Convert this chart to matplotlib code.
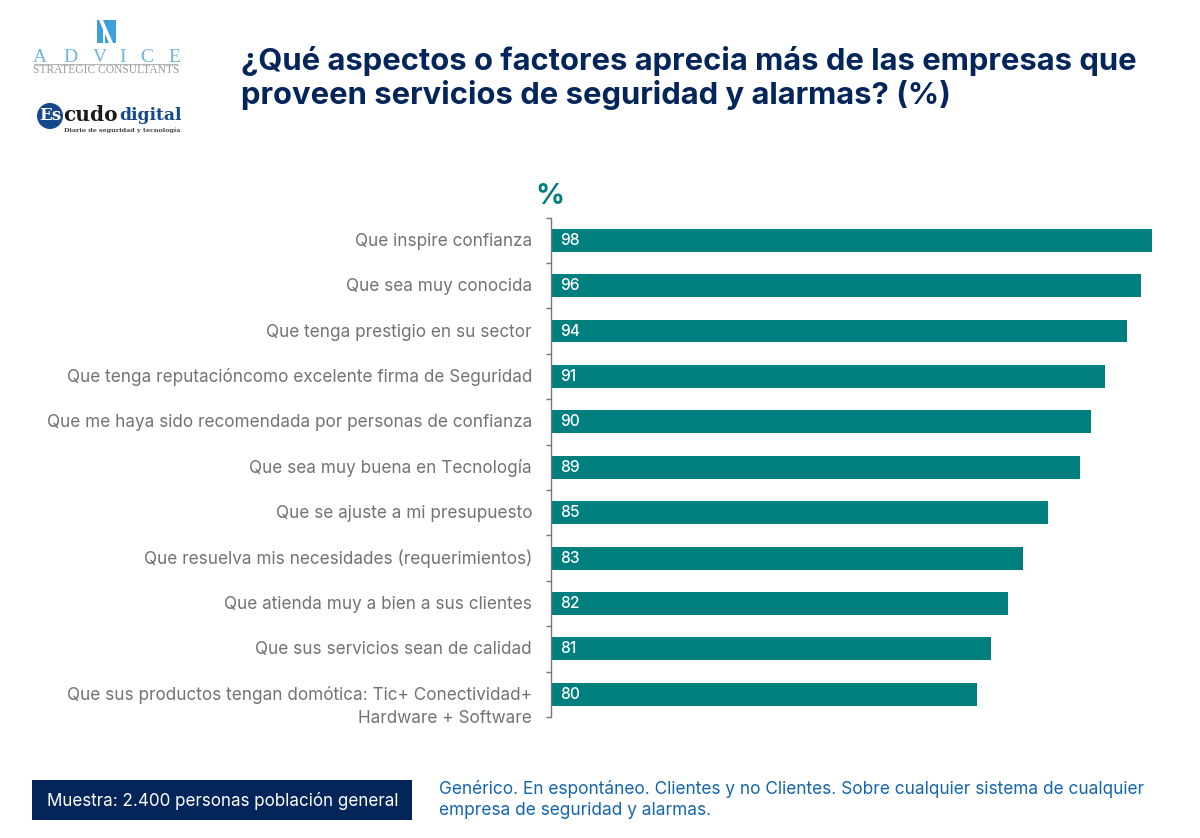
import matplotlib
matplotlib.use("Agg")
import matplotlib.pyplot as plt
from matplotlib.patches import Circle, Polygon, Rectangle

# -- datos ---------------------------------------------------------------------
categories = [
    "Que inspire confianza",
    "Que sea muy conocida",
    "Que tenga prestigio en su sector",
    "Que tenga reputacióncomo excelente firma de Seguridad",
    "Que me haya sido recomendada por personas de confianza",
    "Que sea muy buena en Tecnología",
    "Que se ajuste a mi presupuesto",
    "Que resuelva mis necesidades (requerimientos)",
    "Que atienda muy a bien a sus clientes",
    "Que sus servicios sean de calidad",
    "Que sus productos tengan domótica: Tic+ Conectividad+",
]
# los rotulos del original no coinciden con el largo dibujado de las barras
value_labels = [98, 96, 94, 91, 90, 89, 85, 83, 82, 81, 80]
bar_lengths = [98.0, 96.2, 93.9, 90.4, 88.1, 86.3, 81.1, 77.0, 74.5, 71.8, 69.5]

title_lines = ["¿Qué aspectos o factores aprecia más de las empresas que",
               "proveen servicios de seguridad y alarmas? (%)"]
sample_text = "Muestra: 2.400 personas población general"
note_lines = ["Genérico. En espontáneo. Clientes y no Clientes. Sobre cualquier sistema de cualquier",
              "empresa de seguridad y alarmas."]

TEAL = "#007f7f"
NAVY = "#03255a"
GREY = "#707377"
BLUE = "#1465ad"
SKY = "#3f9fd8"

W, H = 1200, 838
plt.rcParams["font.family"] = ["Inter", "Liberation Sans", "DejaVu Sans"]
fig = plt.figure(figsize=(W / 100, H / 100), dpi=100, facecolor="white")

# capa en pixeles para textos y logos
bg = fig.add_axes([0, 0, 1, 1])
bg.set_xlim(0, W)
bg.set_ylim(H, 0)
bg.axis("off")

# -- grafico -------------------------------------------------------------------
left, right, top, bottom = 551, 1200, 217.5, 717
ax = fig.add_axes([left / W, 1 - bottom / H, (right - left) / W, (bottom - top) / H])
ax.patch.set_alpha(0)
ypos = list(range(len(categories)))
ax.barh(ypos, bar_lengths, height=0.505, color=TEAL)
ax.set_xlim(0, (right - left) / 6.133)
ax.set_ylim(len(categories) - 0.5, -0.5)
for s in ["top", "right", "bottom"]:
    ax.spines[s].set_visible(False)
ax.spines["left"].set_color("#777777")
ax.spines["left"].set_linewidth(1)
ax.set_xticks([])
ax.set_yticks([y - 0.5 for y in ypos] + [len(ypos) - 0.5])
ax.set_yticklabels([])
ax.tick_params(axis="y", length=3.5, width=1, color="#777777")

for y, v, c in zip(ypos, value_labels, categories):
    ax.annotate(str(v), (0, y), xytext=(9, 0), textcoords="offset pixels",
                color="white", fontsize=11.2, fontweight="medium", va="center", ha="left")
    ax.annotate(c, (0, y), xytext=(-19, -1), textcoords="offset pixels", annotation_clip=False,
                color=GREY, fontsize=12.35, va="center", ha="right")
ax.annotate("Hardware + Software", (0, ypos[-1]), xytext=(-19, -24), textcoords="offset pixels",
            annotation_clip=False, color=GREY, fontsize=12.35, va="center", ha="right")

bg.text(550, 196.5, "%", color=TEAL, fontsize=20.5, fontweight="bold", ha="center", va="center")

# -- titulo --------------------------------------------------------------------
for y, line in zip([61, 95], title_lines):
    bg.text(241, y, line, color=NAVY, fontsize=22.3, fontweight="bold", ha="left", va="center")

# -- pie -----------------------------------------------------------------------
bg.add_patch(Rectangle((32, 780), 380, 40, color=NAVY, lw=0))
bg.text(222.5, 800.5, sample_text, color="white", fontsize=12.25, ha="center", va="center")
for y, line in zip([788.5, 810.5], note_lines):
    bg.text(439, y, line, color=BLUE, fontsize=12.42, ha="left", va="center")

# -- logos ---------------------------------------------------------------------
bg.add_patch(Rectangle((97, 20), 19, 23, color=SKY, lw=0))
bg.add_patch(Polygon([(99, 20), (103, 20), (113, 43), (109, 43)], color="white", lw=0))
bg.add_patch(Polygon([(103, 29), (105, 25), (105, 43), (103, 43)], color="white", lw=0))
for x, ch in zip([40, 70, 100, 123, 147, 174], "ADVICE"):
    bg.text(x, 57, ch, color="#6fb4de", fontsize=14, family="Liberation Serif",
            ha="center", va="center")
bg.add_patch(Rectangle((34, 64), 144, 1.5, color="#b5b5b5", lw=0))
bg.text(106, 70, "STRATEGIC CONSULTANTS", color="#9a9a9a", fontsize=8.3,
        family="Liberation Serif", ha="center", va="center")

bg.add_patch(Circle((50, 116), 13, color="#16498c", lw=0))
bg.text(50, 116, "Es", color="white", fontsize=12, family="DejaVu Serif",
        fontweight="bold", ha="center", va="center")
bg.text(63, 115, "cudo", color="#1a1a1a", fontsize=14.5, family="DejaVu Serif",
        fontweight="bold", ha="left", va="center")
bg.text(119, 115, "digital", color="#16498c", fontsize=12.3, family="DejaVu Serif",
        fontweight="bold", ha="left", va="center")
bg.text(122.5, 130, "Diario de seguridad y tecnología", color="#444444", fontsize=4.6,
        family="DejaVu Serif", fontweight="bold", ha="center", va="center")

fig.savefig("out.png", dpi=100, facecolor="white")
